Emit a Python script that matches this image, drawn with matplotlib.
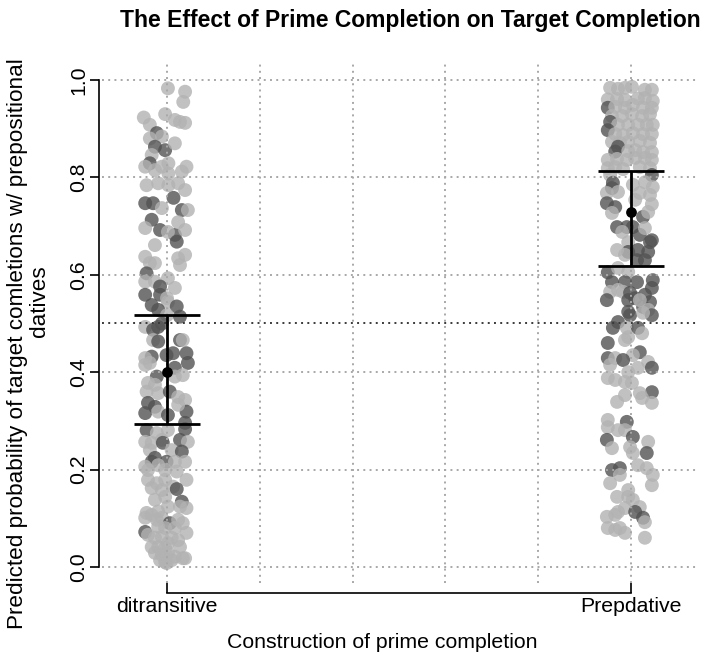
import matplotlib
matplotlib.use('Agg')
import matplotlib.pyplot as plt

plt.rcParams['font.family'] = ['Liberation Sans', 'DejaVu Sans']

# ---------------- data ----------------
categories = ['ditransitive', 'Prepdative']
cat_pos = [1, 2]
estimate = [0.401, 0.728]
ci_lower = [0.294, 0.619]
ci_upper = [0.517, 0.813]
ref_line = 0.5
y_ticks = [0.0, 0.2, 0.4, 0.6, 0.8, 1.0]
y_ticklabels = ['0.0', '0.2', '0.4', '0.6', '0.8', '1.0']
x_grid = [1.0, 1.2, 1.4, 1.6, 1.8, 2.0]

# (horizontal jitter, predicted probability, dark shade flag)
ditr_points = [
    (0.002, 0.983, 0), (0.039, 0.976, 0), (0.035, 0.955, 0), (-0.050, 0.923, 0), (-0.004, 0.930, 0),
    (0.017, 0.918, 0), (0.028, 0.914, 0), (0.039, 0.912, 0), (-0.037, 0.908, 0), (-0.022, 0.891, 1),
    (-0.011, 0.884, 0), (-0.037, 0.880, 0), (-0.026, 0.863, 1), (-0.004, 0.856, 1), (0.017, 0.870, 0),
    (-0.033, 0.846, 0), (0.003, 0.829, 0), (-0.037, 0.829, 1), (-0.047, 0.822, 0), (-0.026, 0.815, 0),
    (-0.011, 0.822, 0), (0.042, 0.822, 0), (0.032, 0.812, 0), (0.003, 0.808, 0), (-0.044, 0.784, 0),
    (-0.019, 0.788, 0), (0.003, 0.784, 0), (0.024, 0.788, 0), (0.039, 0.774, 0), (0.014, 0.758, 1),
    (-0.047, 0.747, 1), (-0.030, 0.747, 1), (0.032, 0.733, 1), (0.045, 0.733, 0), (-0.011, 0.737, 0),
    (-0.033, 0.713, 1), (-0.015, 0.692, 1), (0.017, 0.682, 1), (0.024, 0.708, 0), (0.039, 0.692, 0),
    (-0.047, 0.696, 0), (0.002, 0.688, 0), (-0.026, 0.661, 0), (0.021, 0.668, 1), (-0.047, 0.637, 0),
    (-0.037, 0.624, 0), (-0.026, 0.624, 0), (0.024, 0.634, 0), (0.039, 0.641, 0), (0.028, 0.620, 0),
    (-0.044, 0.603, 1), (-0.047, 0.586, 0), (-0.026, 0.586, 0), (0.002, 0.593, 0), (-0.015, 0.576, 1),
    (0.017, 0.573, 0), (-0.047, 0.559, 1), (-0.015, 0.559, 1), (0.000, 0.552, 0), (0.002, 0.544, 0),
    (-0.033, 0.538, 1), (0.021, 0.535, 1), (-0.019, 0.528, 1), (0.000, 0.517, 0), (0.028, 0.514, 1),
    (-0.047, 0.493, 0), (-0.030, 0.487, 1), (-0.019, 0.493, 1), (-0.011, 0.500, 1), (0.028, 0.466, 1),
    (0.034, 0.466, 0), (-0.030, 0.466, 0), (-0.019, 0.463, 1), (0.013, 0.439, 1), (0.042, 0.439, 1),
    (-0.001, 0.435, 1), (-0.033, 0.432, 1), (-0.047, 0.429, 0), (-0.047, 0.415, 0), (-0.037, 0.419, 0),
    (0.045, 0.419, 1), (0.017, 0.409, 1), (-0.022, 0.391, 1), (0.017, 0.391, 0), (0.034, 0.394, 0),
    (-0.041, 0.378, 0), (-0.026, 0.374, 0), (-0.044, 0.360, 0), (-0.019, 0.357, 0), (0.006, 0.360, 1),
    (0.024, 0.349, 0), (0.039, 0.343, 0), (-0.041, 0.337, 1), (-0.026, 0.329, 1), (-0.047, 0.316, 1),
    (-0.019, 0.319, 0), (0.002, 0.312, 1), (0.042, 0.319, 1), (0.024, 0.333, 0), (0.039, 0.296, 1),
    (-0.044, 0.281, 1), (0.039, 0.283, 1), (-0.022, 0.275, 0), (0.002, 0.281, 0), (-0.047, 0.257, 0),
    (-0.033, 0.255, 0), (-0.011, 0.261, 0), (-0.009, 0.255, 1), (0.028, 0.261, 1), (0.045, 0.257, 0),
    (0.010, 0.240, 0), (0.032, 0.237, 1), (-0.037, 0.240, 0), (-0.026, 0.224, 1), (-0.033, 0.216, 1),
    (-0.001, 0.216, 1), (-0.047, 0.206, 0), (-0.019, 0.209, 0), (0.017, 0.216, 0), (0.039, 0.216, 0),
    (-0.041, 0.199, 0), (-0.004, 0.199, 0), (0.021, 0.196, 0), (-0.041, 0.179, 0), (-0.022, 0.172, 0),
    (-0.004, 0.179, 0), (0.042, 0.179, 0), (-0.033, 0.162, 0), (-0.011, 0.158, 0), (0.013, 0.165, 0),
    (0.021, 0.160, 1), (-0.026, 0.138, 0), (-0.004, 0.144, 0), (0.032, 0.134, 1), (0.028, 0.124, 0),
    (0.042, 0.121, 0), (0.002, 0.124, 0), (-0.044, 0.111, 0), (-0.033, 0.107, 0), (-0.019, 0.114, 0),
    (-0.047, 0.101, 0), (-0.022, 0.097, 0), (-0.011, 0.101, 0), (0.006, 0.090, 1), (0.024, 0.097, 0),
    (0.034, 0.090, 0), (-0.019, 0.083, 0), (-0.004, 0.080, 0), (0.017, 0.080, 0), (-0.047, 0.072, 1),
    (0.042, 0.070, 0), (-0.041, 0.066, 0), (-0.026, 0.060, 0), (-0.011, 0.062, 0), (0.010, 0.060, 0),
    (0.024, 0.055, 0), (-0.033, 0.041, 0), (-0.019, 0.041, 0), (-0.004, 0.039, 0), (0.002, 0.049, 0),
    (0.028, 0.041, 0), (-0.026, 0.029, 0), (-0.011, 0.025, 0), (0.002, 0.029, 0), (0.017, 0.021, 0),
    (0.034, 0.018, 0), (-0.015, 0.014, 0), (-0.004, 0.010, 0), (0.010, 0.014, 0), (0.039, 0.018, 0),
    (-0.001, 0.008, 0),
]

prep_points = [
    (-0.045, 0.984, 0), (-0.028, 0.982, 0), (-0.013, 0.984, 0), (0.002, 0.986, 0), (0.030, 0.980, 0),
    (0.045, 0.980, 0), (-0.050, 0.960, 0), (-0.030, 0.961, 0), (-0.013, 0.959, 0), (0.015, 0.962, 0),
    (0.047, 0.957, 0), (0.030, 0.963, 0), (-0.050, 0.943, 1), (-0.034, 0.945, 0), (-0.013, 0.943, 0),
    (0.004, 0.949, 0), (0.026, 0.943, 0), (0.045, 0.943, 0), (-0.041, 0.926, 0), (-0.019, 0.926, 0),
    (0.002, 0.930, 0), (0.024, 0.926, 0), (0.041, 0.930, 0), (-0.045, 0.914, 1), (-0.028, 0.908, 0),
    (-0.006, 0.908, 0), (0.015, 0.908, 0), (0.034, 0.908, 0), (0.047, 0.908, 0), (-0.050, 0.897, 1),
    (-0.034, 0.889, 0), (-0.017, 0.887, 0), (0.004, 0.891, 0), (0.026, 0.889, 0), (0.045, 0.889, 0),
    (-0.041, 0.873, 0), (-0.024, 0.871, 0), (-0.006, 0.873, 0), (0.019, 0.875, 0), (0.041, 0.871, 0),
    (-0.028, 0.863, 1), (-0.034, 0.853, 1), (-0.006, 0.854, 0), (0.009, 0.856, 0), (0.026, 0.852, 0),
    (0.045, 0.852, 0), (-0.050, 0.836, 0), (-0.030, 0.838, 0), (-0.009, 0.836, 0), (0.009, 0.840, 0),
    (0.030, 0.840, 0), (0.045, 0.836, 0), (-0.050, 0.819, 0), (-0.034, 0.821, 0), (-0.017, 0.817, 0),
    (0.019, 0.821, 0), (0.041, 0.819, 0), (0.045, 0.805, 1), (-0.045, 0.805, 0), (-0.039, 0.789, 1),
    (-0.041, 0.778, 1), (-0.052, 0.768, 0), (-0.028, 0.770, 0), (0.019, 0.768, 0), (0.041, 0.764, 0),
    (0.030, 0.790, 0), (0.047, 0.780, 0), (0.004, 0.785, 0), (0.009, 0.754, 0), (-0.052, 0.747, 1),
    (-0.034, 0.739, 1), (-0.041, 0.727, 0), (0.026, 0.719, 1), (0.037, 0.729, 0), (0.045, 0.745, 0),
    (-0.030, 0.698, 1), (-0.009, 0.698, 1), (0.004, 0.698, 1), (0.019, 0.682, 1), (0.045, 0.671, 1),
    (-0.019, 0.688, 0), (-0.006, 0.667, 0), (0.030, 0.696, 0), (-0.006, 0.647, 1), (0.015, 0.651, 1),
    (0.037, 0.647, 1), (-0.030, 0.651, 0), (-0.013, 0.641, 0), (0.013, 0.630, 1), (0.030, 0.630, 1),
    (0.041, 0.667, 1), (-0.050, 0.605, 1), (-0.028, 0.614, 0), (-0.006, 0.606, 0), (-0.041, 0.585, 1),
    (-0.013, 0.585, 1), (0.013, 0.585, 1), (0.047, 0.589, 1), (0.045, 0.573, 1), (-0.045, 0.565, 0),
    (-0.028, 0.569, 0), (-0.017, 0.565, 0), (-0.002, 0.563, 1), (0.030, 0.559, 1), (-0.052, 0.548, 1),
    (-0.006, 0.548, 1), (0.009, 0.552, 1), (0.041, 0.544, 1), (0.026, 0.534, 1), (0.019, 0.548, 0),
    (0.037, 0.528, 0), (-0.006, 0.524, 1), (-0.002, 0.517, 1), (0.045, 0.517, 1), (0.026, 0.522, 0),
    (-0.028, 0.503, 1), (-0.039, 0.491, 1), (-0.009, 0.491, 0), (0.015, 0.491, 1), (0.024, 0.480, 0),
    (-0.006, 0.472, 0), (-0.013, 0.466, 0), (-0.050, 0.460, 1), (0.019, 0.441, 1), (0.004, 0.435, 0),
    (-0.050, 0.429, 1), (-0.034, 0.429, 0), (-0.017, 0.425, 1), (-0.045, 0.415, 0), (0.037, 0.421, 0),
    (0.045, 0.409, 1), (0.015, 0.409, 0), (-0.006, 0.400, 0), (-0.050, 0.388, 0), (-0.034, 0.384, 0),
    (-0.013, 0.380, 0), (0.002, 0.378, 0), (0.045, 0.359, 1), (0.019, 0.357, 0), (-0.013, 0.353, 0),
    (-0.030, 0.339, 0), (0.024, 0.347, 0), (0.045, 0.337, 0), (-0.050, 0.302, 0), (-0.009, 0.298, 1),
    (-0.050, 0.287, 0), (-0.028, 0.281, 0), (-0.013, 0.281, 0), (-0.052, 0.261, 1), (0.004, 0.267, 1),
    (0.037, 0.257, 0), (-0.041, 0.244, 0), (-0.002, 0.246, 0), (0.004, 0.234, 0), (0.034, 0.234, 1),
    (0.015, 0.209, 0), (0.034, 0.203, 0), (-0.041, 0.199, 1), (-0.024, 0.203, 1), (-0.024, 0.189, 0),
    (0.047, 0.189, 0), (0.045, 0.168, 0), (-0.045, 0.172, 0), (-0.006, 0.158, 0), (-0.030, 0.144, 0),
    (-0.006, 0.144, 0), (0.004, 0.138, 0), (-0.013, 0.121, 0), (0.019, 0.123, 0), (0.009, 0.113, 1),
    (0.026, 0.101, 1), (-0.028, 0.113, 0), (-0.034, 0.107, 0), (-0.052, 0.103, 0), (0.030, 0.092, 0),
    (-0.050, 0.080, 0), (-0.034, 0.076, 0), (-0.024, 0.080, 0), (-0.013, 0.070, 0), (0.030, 0.060, 0),
]

title = 'The Effect of Prime Completion on Target Completion'
xlabel = 'Construction of prime completion'
ylabel_lines = ['Predicted probability of target comletions w/ prepositional', 'datives']

# ---------------- figure ----------------
W, H = 704, 663
fig = plt.figure(figsize=(W / 100, H / 100), dpi=100)
L, R, T, B = 102, 696, 62, 583
ax = fig.add_axes([L / W, 1 - B / H, (R - L) / W, (B - T) / H])
ax.set_xlim(0.8599, 2.1401)
ax.set_ylim(-0.0329, 1.0370)

light = '#b2b2b2'
dark = '#525252'
for pos, pts in zip(cat_pos, [ditr_points, prep_points]):
    xs = [pos + p[0] for p in pts]
    ys = [p[1] for p in pts]
    cs = [dark if p[2] else light for p in pts]
    ax.scatter(xs, ys, s=100, c=cs, alpha=0.8, linewidths=0, zorder=2)

grid_kw = dict(color='#a8a8a8', lw=1.4, ls=(0, (1, 2.2)), zorder=3)
for g in y_ticks:
    ax.axhline(g, **grid_kw)
for g in x_grid:
    ax.axvline(g, **grid_kw)
ax.axhline(ref_line, color='#3a3a3a', lw=1.4, ls=(0, (1, 2.2)), zorder=3)

half_cap = 0.072
for x, lo, hi in zip(cat_pos, ci_lower, ci_upper):
    ax.vlines(x, lo, hi, color='black', lw=2, zorder=4)
    ax.hlines([lo, hi], x - half_cap, x + half_cap, color='black', lw=2, zorder=4)
ax.scatter(cat_pos, estimate, s=60, color='black', linewidths=0, zorder=5)

for s in ['top', 'right']:
    ax.spines[s].set_visible(False)
ax.spines['left'].set_bounds(0, 1)
ax.spines['left'].set_position(('outward', 2.2))
ax.spines['bottom'].set_bounds(1, 2)
ax.spines['bottom'].set_position(('outward', 7.2))
for s in ['left', 'bottom']:
    ax.spines[s].set_linewidth(1.2)

ax.set_yticks(y_ticks)
ax.set_yticklabels(y_ticklabels, rotation=90, va='center')
ax.tick_params(axis='y', direction='out', length=6.5, width=1.2, pad=1, labelsize=15.3)
ax.set_xticks(cat_pos)
ax.set_xticklabels(categories)
ax.tick_params(axis='x', direction='in', length=7.2, width=1.2, pad=3, labelsize=15.3)

fig.text(410 / W, 1 - 20 / H, title, ha='center', va='center', fontsize=16.5, fontweight='bold')
fig.text(382 / W, 1 - 643 / H, xlabel, ha='center', va='center', fontsize=15.3)
fig.text(18 / W, 1 - 344 / H, ylabel_lines[0], ha='center', va='center', rotation=90, fontsize=16.2)
fig.text(40 / W, 1 - 301 / H, ylabel_lines[1], ha='center', va='center', rotation=90, fontsize=16.2)

fig.savefig('out.png', dpi=100)
